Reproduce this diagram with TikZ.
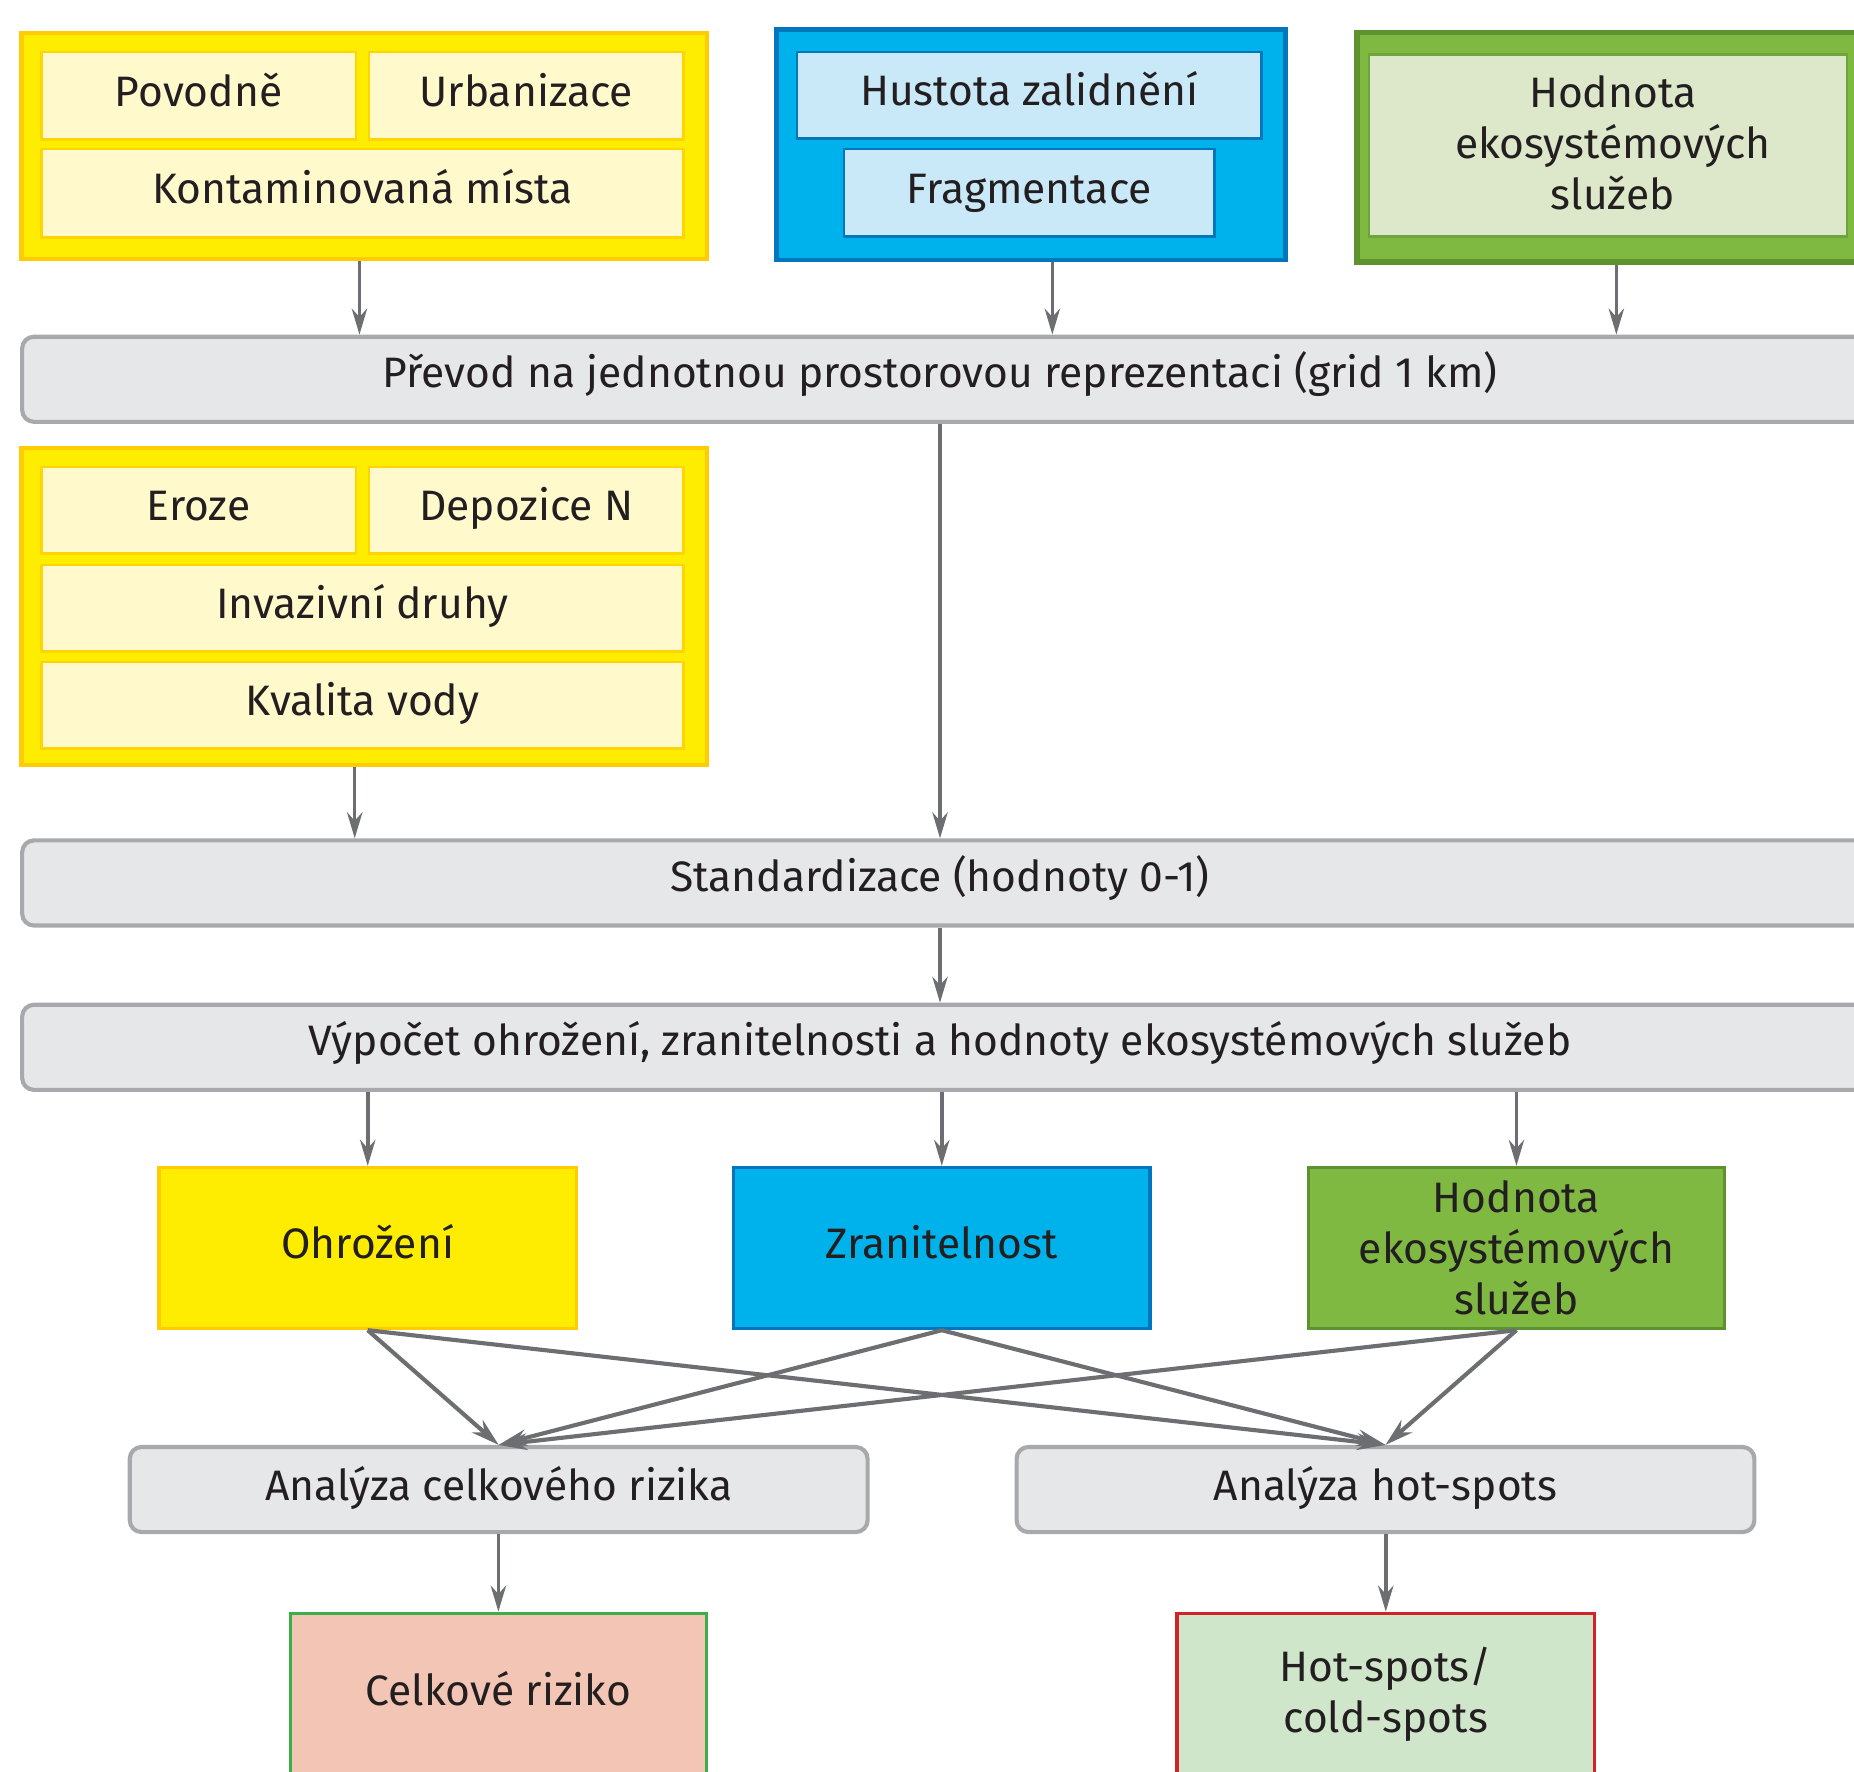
\documentclass[tikz,border=0pt]{standalone}
\usepackage{fontspec}
\setmainfont{Fira Sans}
\usetikzlibrary{arrows.meta,calc}
\definecolor{yFill}{HTML}{FFED00}
\definecolor{yEdge}{HTML}{FFCB05}
\definecolor{yIn}{HTML}{FFF9CC}
\definecolor{yInEdge}{HTML}{FFD400}
\definecolor{bFill}{HTML}{00B2EB}
\definecolor{bEdge}{HTML}{0077BD}
\definecolor{bIn}{HTML}{C9E8F8}
\definecolor{bInEdge}{HTML}{0077BD}
\definecolor{gFill}{HTML}{80B941}
\definecolor{gEdge}{HTML}{5E922F}
\definecolor{gIn}{HTML}{DCE8C9}
\definecolor{gInEdge}{HTML}{6FA43A}
\definecolor{barFill}{HTML}{E6E7E8}
\definecolor{barEdge}{HTML}{A7A9AC}
\definecolor{arrGray}{HTML}{6D6E71}
\definecolor{salmon}{HTML}{F2C5B5}
\definecolor{crGreen}{HTML}{3BAE4A}
\definecolor{hsFill}{HTML}{D0E6CB}
\definecolor{hsRed}{HTML}{D1232A}
\definecolor{txt}{HTML}{231F20}
\begin{document}
\begin{tikzpicture}[x=1pt,y=-1pt,
  every node/.style={text=txt,font=\fontsize{36}{43}\selectfont},
  one/.style={text height=26pt,text depth=8pt},
  box/.style={rectangle,anchor=north west,inner sep=0pt,align=center},
  grpY/.style={box,draw=yEdge,fill=yFill,line width=4pt},
  grpB/.style={box,draw=bEdge,fill=bFill,line width=4pt},
  grpG/.style={box,draw=gEdge,fill=gFill,line width=5pt},
  inY/.style={box,one,draw=yInEdge,fill=yIn,line width=2pt},
  inB/.style={box,one,draw=bInEdge,fill=bIn,line width=2pt},
  inG/.style={box,draw=gInEdge,fill=gIn,line width=2pt},
  bar/.style={box,one,draw=barEdge,fill=barFill,line width=3.5pt,rounded corners=10pt},
  arr/.style={draw=arrGray,line width=3pt,-{Stealth[length=22pt,width=13pt]}},
  xarr/.style={draw=arrGray,line width=3.5pt,-{Stealth[length=24pt,width=14pt]}}]
\useasboundingbox (0,0) rectangle (1568,1498);
\clip (0,0) rectangle (1568,1498);
% top groups
\node[grpY,minimum width=580pt,minimum height=191pt] (g1) at (16,26) {};
\node[inY,minimum width=266pt,minimum height=74pt] (pov) at (34,43) {Povodně};
\node[inY,minimum width=266pt,minimum height=74pt] (urb) at (311,43) {Urbanizace};
\node[inY,minimum width=543pt,minimum height=75pt] (kon) at (34,125) {Kontaminovaná místa};
\node[grpB,minimum width=430pt,minimum height=195pt] (g2) at (655,23) {};
\node[inB,minimum width=393pt,minimum height=73pt] (hus) at (673,43) {Hustota zalidnění};
\node[inB,minimum width=313pt,minimum height=74pt] (fra) at (713,125) {Fragmentace};
\node[grpG,minimum width=427pt,minimum height=194pt] (g3) at (1145,25) {};
\node[inG,minimum width=404pt,minimum height=154pt] (hod) at (1157,45) {};
\node (hodt) at (1364,121) [align=center] {Hodnota\\ekosystémových\\služeb};
% bars
\node[bar,minimum width=1560pt,minimum height=72pt] (bar1) at (17,283) {};
\node[one] (bar1t) at (795,319) {Převod na jednotnou prostorovou reprezentaci (grid 1 km)};
\node[grpY,minimum width=580pt,minimum height=268pt] (g4) at (16,377) {};
\node[inY,minimum width=266pt,minimum height=73pt] (ero) at (34,394) {Eroze};
\node[inY,minimum width=266pt,minimum height=73pt] (dep) at (311,394) {Depozice N};
\node[inY,minimum width=543pt,minimum height=73pt] (inv) at (34,477) {Invazivní druhy};
\node[inY,minimum width=543pt,minimum height=73pt] (kva) at (34,559) {Kvalita vody};
\node[bar,minimum width=1560pt,minimum height=72pt] (bar2) at (17,709) {};
\node[one] (bar2t) at (795,745) {Standardizace (hodnoty 0-1)};
\node[bar,minimum width=1560pt,minimum height=72pt] (bar3) at (17,848) {};
\node[one] (bar3t) at (795,884) {Výpočet ohrožení, zranitelnosti a hodnoty ekosystémových služeb};
% middle row
\node[box,one,draw=yEdge,fill=yFill,line width=3pt,minimum width=353pt,minimum height=136pt] (ohr) at (133,986) {Ohrožení};
\node[box,one,draw=bEdge,fill=bFill,line width=3pt,minimum width=352pt,minimum height=136pt] (zra) at (619,986) {Zranitelnost};
\node[box,draw=gEdge,fill=gFill,line width=3pt,minimum width=352pt,minimum height=136pt] (hes) at (1105,986) {Hodnota\\ekosystémových\\služeb};
% analyses
\node[bar,minimum width=624pt,minimum height=72pt] (an1) at (108,1222) {Analýza celkového rizika};
\node[bar,minimum width=624pt,minimum height=72pt] (an2) at (858,1222) {Analýza hot-spots};
% results
\node[box,one,draw=crGreen,fill=salmon,line width=3pt,minimum width=352pt,minimum height=137pt] (cel) at (244,1363) {Celkové riziko};
\node[box,draw=hsRed,fill=hsFill,line width=3pt,minimum width=353pt,minimum height=137pt] (hot) at (994,1363) {Hot-spots/\\cold-spots};
% connectors
\path ([xshift=-4pt]g1.south) coordinate (c1);
\path ([xshift=18pt]g2.south) coordinate (c2);
\path ([xshift=6pt]g3.south) coordinate (c3);
\draw[arr] (c1) -- (c1 |- bar1.north);
\draw[arr] (c2) -- (c2 |- bar1.north);
\draw[arr] (c3) -- (c3 |- bar1.north);
\path (795,355) coordinate (c4);
\draw[arr] (c4 |- bar1.south) -- (c4 |- bar2.north);
\path ([xshift=-8pt]g4.south) coordinate (c5);
\draw[arr] (c5) -- (c5 |- bar2.north);
\draw[arr] (c4 |- bar2.south) -- (c4 |- bar3.north);
\draw[arr] (ohr.north |- bar3.south) -- (ohr.north);
\draw[arr] (zra.north |- bar3.south) -- (zra.north);
\draw[arr] (hes.north |- bar3.south) -- (hes.north);
\draw[xarr] (ohr.south) -- (an1.north);
\draw[xarr] (ohr.south) -- (an2.north);
\draw[xarr] (zra.south) -- (an1.north);
\draw[xarr] (zra.south) -- (an2.north);
\draw[xarr] (hes.south) -- (an1.north);
\draw[xarr] (hes.south) -- (an2.north);
\draw[arr] (an1.south -| cel.north) -- (cel.north);
\draw[arr] (an2.south -| hot.north) -- (hot.north);
\end{tikzpicture}
\end{document}
